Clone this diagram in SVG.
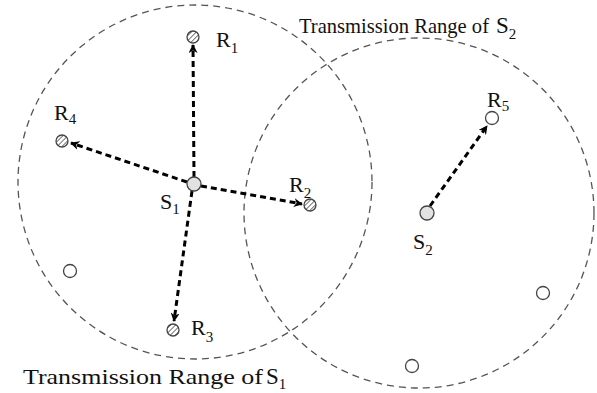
<svg xmlns="http://www.w3.org/2000/svg" width="597" height="393" viewBox="0 0 597 393">
<style>
.range{fill:none;stroke:#555;stroke-width:1.3;stroke-dasharray:7 5}
.edge{fill:none;stroke:#000;stroke-width:3;stroke-dasharray:6 4}
.hatched{fill:url(#hatch);stroke:#444;stroke-width:1.3}
.src{fill:#e2e2e2;stroke:#444;stroke-width:1.3}
.empty{fill:#fff;stroke:#444;stroke-width:1.3}
text{font-family:"Liberation Serif","Times New Roman",serif;fill:#111}
.lbl{font-size:22px}
.sub{font-size:15px}
.cap{font-size:21px}
.capS{font-size:23px}
</style>
<defs>
<pattern id="hatch" patternUnits="userSpaceOnUse" width="3.5" height="3.5" patternTransform="rotate(45)">
<rect width="3.5" height="3.5" fill="#fff"/>
<line x1="0" y1="0" x2="0" y2="3.5" stroke="#555" stroke-width="1.6"/>
</pattern>
<marker id="arr" viewBox="0 0 10 10" refX="9" refY="5" markerWidth="3" markerHeight="3" orient="auto" markerUnits="strokeWidth">
<path d="M0,0 L10,5 L0,10 L3,5 z" fill="#000"/>
</marker>
</defs>
<g id="ranges">
<circle class="range" cx="195" cy="182" r="177"/>
<circle class="range" cx="419" cy="213" r="175"/>
</g>
<g id="connectors">
<line class="edge" x1="194" y1="177" x2="193" y2="45" marker-end="url(#arr)"/>
<line class="edge" x1="187" y1="182" x2="71" y2="143" marker-end="url(#arr)"/>
<line class="edge" x1="201" y1="186" x2="302" y2="204" marker-end="url(#arr)"/>
<line class="edge" x1="192" y1="191" x2="174" y2="321" marker-end="url(#arr)"/>
<line class="edge" x1="430" y1="206" x2="487" y2="126" marker-end="url(#arr)"/>
</g>
<g id="R1"><circle class="hatched" cx="193" cy="37" r="6"/><text class="lbl" x="216" y="47">R<tspan class="sub" dy="6">1</tspan></text></g>
<g id="R4"><circle class="hatched" cx="62" cy="141" r="6"/><text class="lbl" x="54" y="120">R<tspan class="sub" dy="4">4</tspan></text></g>
<g id="S1"><circle class="src" cx="194" cy="184" r="7"/><text class="lbl" x="160" y="209">S<tspan class="sub" dy="5">1</tspan></text></g>
<g id="R2"><circle class="hatched" cx="310" cy="205" r="6"/><text class="lbl" x="289" y="192">R<tspan class="sub" dy="6">2</tspan></text></g>
<g id="R3"><circle class="hatched" cx="173" cy="330" r="6"/><text class="lbl" x="191" y="335">R<tspan class="sub" dy="7">3</tspan></text></g>
<g id="S2"><circle class="src" cx="427" cy="213" r="7"/><text class="lbl" x="413" y="249">S<tspan class="sub" dy="6">2</tspan></text></g>
<g id="R5"><circle class="empty" cx="492" cy="118" r="6.5"/><text class="lbl" x="487" y="107">R<tspan class="sub" dy="4">5</tspan></text></g>
<g id="N1"><circle class="empty" cx="70" cy="271" r="6.5"/></g>
<g id="N2"><circle class="empty" cx="543" cy="293" r="6.5"/></g>
<g id="N3"><circle class="empty" cx="412" cy="366" r="6.5"/></g>
<g id="captions">
<text class="cap" x="299" y="33" textLength="190" lengthAdjust="spacingAndGlyphs">Transmission Range of</text>
<text class="capS" x="496" y="33">S<tspan class="sub" dy="6">2</tspan></text>
<text class="cap" x="23" y="384" textLength="240" lengthAdjust="spacingAndGlyphs">Transmission Range of</text>
<text class="capS" x="266" y="384">S<tspan class="sub" dy="5">1</tspan></text>
</g>
</svg>
